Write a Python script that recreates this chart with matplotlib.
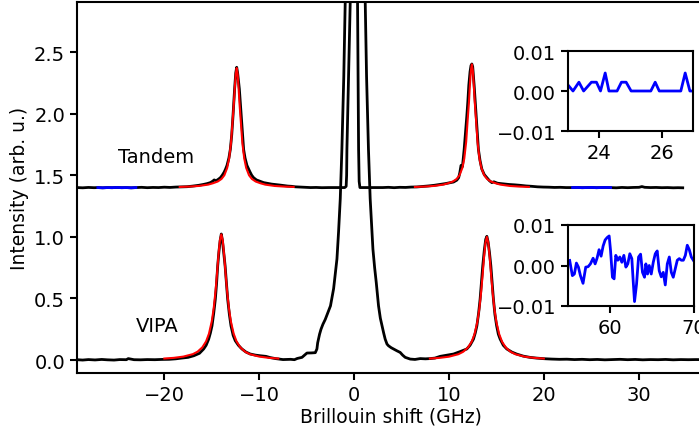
import numpy as np
import matplotlib
matplotlib.use("Agg")
import matplotlib.pyplot as plt

# ---------------- data ----------------
tandem_xy = [
    (-29.2, 1.400), (-28.6, 1.398), (-28.0, 1.401), (-27.4, 1.399), (-27.0, 1.400),
    (-26.5, 1.398), (-26.0, 1.400), (-25.5, 1.399), (-25.0, 1.401), (-24.5, 1.399),
    (-24.0, 1.400), (-23.5, 1.398), (-23.0, 1.400), (-22.4, 1.402), (-21.8, 1.399),
    (-21.2, 1.401), (-20.6, 1.400), (-20.0, 1.403), (-19.4, 1.401), (-18.8, 1.404),
    (-18.3, 1.405), (-17.6, 1.407), (-17.0, 1.412), (-16.4, 1.418), (-15.9, 1.425),
    (-15.5, 1.432), (-15.16, 1.440), (-14.9, 1.452), (-14.75, 1.462), (-14.55, 1.455),
    (-14.3, 1.468), (-14.1, 1.480), (-13.9, 1.500), (-13.7, 1.525), (-13.55, 1.550),
    (-13.4, 1.580), (-13.2, 1.640), (-13.05, 1.710), (-12.9, 1.830), (-12.77, 1.980),
    (-12.6, 2.200), (-12.48, 2.330), (-12.38, 2.376), (-12.28, 2.330), (-12.1, 2.200),
    (-11.9, 1.980), (-11.77, 1.830), (-11.65, 1.710), (-11.5, 1.640), (-11.3, 1.580),
    (-11.0, 1.530), (-10.8, 1.500), (-10.6, 1.480), (-10.3, 1.462), (-9.9, 1.450),
    (-9.54, 1.440), (-9.1, 1.434), (-8.7, 1.428), (-8.2, 1.424), (-7.8, 1.420),
    (-7.4, 1.416), (-7.0, 1.412), (-6.6, 1.410), (-6.2, 1.406), (-5.7, 1.404),
    (-5.2, 1.402), (-4.6, 1.400), (-4.0, 1.401), (-3.4, 1.399), (-2.7, 1.400),
    (-1.0, 1.400), (-0.85, 1.410), (-0.8, 1.500), (-0.77, 1.710), (-0.6, 2.300),
    (-0.42, 2.900), (-0.3, 3.500), (0.0, 6.000), (0.3, 3.500), (0.35, 2.900),
    (0.42, 2.200), (0.46, 1.710), (0.52, 1.450), (0.6, 1.400), (1.5, 1.400),
    (3.0, 1.400), (3.6, 1.402), (4.2, 1.399), (4.8, 1.402), (5.4, 1.401),
    (6.0, 1.404), (6.6, 1.405), (7.2, 1.409), (7.8, 1.413), (8.4, 1.418),
    (9.0, 1.425), (9.6, 1.432), (10.0, 1.438), (10.46, 1.445), (10.8, 1.460),
    (11.0, 1.480), (11.12, 1.520), (11.25, 1.580), (11.4, 1.570), (11.58, 1.710),
    (11.72, 1.840), (11.86, 1.980), (11.97, 2.100), (12.07, 2.230), (12.2, 2.340),
    (12.3, 2.390), (12.39, 2.403), (12.48, 2.380), (12.63, 2.230), (12.74, 2.100),
    (12.84, 1.980), (12.96, 1.840), (13.08, 1.710), (13.25, 1.620), (13.44, 1.550),
    (13.7, 1.505), (13.97, 1.480), (14.25, 1.455), (14.5, 1.440), (14.7, 1.447),
    (15.1, 1.435), (15.7, 1.430), (16.3, 1.425), (16.9, 1.422), (17.5, 1.418),
    (18.1, 1.413), (18.7, 1.410), (19.3, 1.406), (19.9, 1.404), (20.5, 1.403),
    (21.1, 1.401), (21.7, 1.402), (22.3, 1.400), (23.0, 1.400), (23.5, 1.401),
    (24.0, 1.399), (24.5, 1.400), (25.0, 1.401), (25.5, 1.399), (26.0, 1.400),
    (26.5, 1.401), (27.0, 1.400), (27.6, 1.398), (28.2, 1.401), (28.8, 1.399),
    (29.4, 1.401), (30.0, 1.402), (30.3, 1.408), (30.6, 1.402), (31.2, 1.400),
    (31.8, 1.401), (32.4, 1.399), (33.0, 1.400), (33.6, 1.398), (34.1, 1.399),
    (34.6, 1.398),
]

vipa_xy = [
    (-29.2, 0.003), (-28.6, 0.000), (-28.0, 0.004), (-27.3, 0.001), (-26.6, 0.005),
    (-26.0, 0.002), (-25.3, 0.000), (-24.7, 0.004), (-24.0, 0.003), (-23.8, 0.012),
    (-23.2, 0.003), (-22.5, 0.002), (-21.8, 0.004), (-21.0, 0.003), (-20.3, 0.005),
    (-19.5, 0.006), (-18.8, 0.010), (-18.3, 0.015), (-17.5, 0.022), (-16.9, 0.035),
    (-16.3, 0.055), (-15.86, 0.090), (-15.6, 0.120), (-15.33, 0.170), (-15.15, 0.220),
    (-14.98, 0.278), (-14.8, 0.380), (-14.63, 0.495), (-14.5, 0.620), (-14.38, 0.765),
    (-14.25, 0.880), (-14.12, 0.970), (-14.0, 1.023), (-13.88, 0.970), (-13.74, 0.870),
    (-13.6, 0.765), (-13.47, 0.630), (-13.33, 0.495), (-13.15, 0.370), (-12.98, 0.278),
    (-12.75, 0.200), (-12.53, 0.157), (-12.2, 0.120), (-11.83, 0.090), (-11.4, 0.065),
    (-10.95, 0.049), (-10.4, 0.040), (-9.9, 0.035), (-9.3, 0.030), (-8.84, 0.020),
    (-8.3, 0.012), (-7.5, 0.004), (-6.7, 0.006), (-6.3, 0.003), (-6.0, 0.013),
    (-5.5, 0.022), (-4.98, 0.057), (-4.5, 0.058), (-4.1, 0.060), (-3.93, 0.090),
    (-3.85, 0.140), (-3.76, 0.170), (-3.65, 0.210), (-3.5, 0.250), (-3.3, 0.290),
    (-3.05, 0.330), (-2.8, 0.380), (-2.5, 0.440), (-2.17, 0.580), (-2.0, 0.700),
    (-1.82, 0.820), (-1.65, 1.040), (-1.47, 1.310), (-1.3, 1.710), (-1.1, 2.300),
    (-0.95, 2.900), (-0.7, 4.000), (-0.3, 8.000), (0.0, 10.00), (0.3, 9.000),
    (0.7, 5.000), (1.0, 3.500), (1.16, 2.900), (1.3, 2.300), (1.5, 1.710),
    (1.68, 1.310), (1.97, 0.900), (2.15, 0.750), (2.32, 0.630), (2.56, 0.440),
    (2.75, 0.340), (2.92, 0.280), (3.1, 0.220), (3.26, 0.170), (3.45, 0.130),
    (3.61, 0.116), (3.9, 0.100), (4.14, 0.090), (4.5, 0.075), (4.84, 0.062),
    (5.1, 0.040), (5.37, 0.022), (5.9, 0.008), (6.4, 0.005), (6.95, 0.012),
    (7.5, 0.010), (8.0, 0.012), (8.5, 0.016), (9.05, 0.030), (9.8, 0.040),
    (10.46, 0.049), (11.2, 0.070), (11.86, 0.090), (12.2, 0.120), (12.56, 0.170),
    (12.75, 0.220), (12.92, 0.278), (13.1, 0.380), (13.26, 0.495), (13.4, 0.630),
    (13.54, 0.765), (13.7, 0.890), (13.85, 0.980), (13.97, 1.004), (14.1, 0.960),
    (14.25, 0.870), (14.39, 0.765), (14.52, 0.630), (14.66, 0.495), (14.82, 0.370),
    (15.0, 0.278), (15.18, 0.210), (15.37, 0.170), (15.7, 0.120), (16.07, 0.090),
    (16.6, 0.065), (17.1, 0.049), (17.8, 0.032), (18.5, 0.022), (19.2, 0.016),
    (20.0, 0.011), (20.8, 0.008), (21.6, 0.006), (22.4, 0.007), (23.2, 0.004),
    (24.0, 0.006), (24.8, 0.003), (25.6, 0.005), (26.4, 0.002), (27.2, 0.004),
    (28.0, 0.006), (28.8, 0.003), (29.6, 0.005), (30.4, 0.002), (31.2, 0.004),
    (32.0, 0.003), (32.8, 0.005), (33.6, 0.002), (34.4, 0.004), (35.2, 0.003),
    (36.0, 0.004), (37.0, 0.003),
]

# Lorentzian fits (red), sampled around each peak centre
tandem_centers = [-12.38, 12.39]
tandem_fit_offsets = [-6, -5, -4, -3, -2.5, -2, -1.6, -1.3, -1, -0.8, -0.6, -0.45, -0.3,
                      -0.2, -0.1, 0, 0.1, 0.2, 0.3, 0.45, 0.6, 0.8, 1, 1.3, 1.6, 2, 2.5,
                      3, 4, 5, 6]
tandem_fit_left = [1.405, 1.408, 1.413, 1.424, 1.435, 1.449, 1.47, 1.50, 1.56, 1.635,
                   1.76, 1.92, 2.08, 2.21, 2.32, 2.37, 2.32, 2.21, 2.08, 1.92, 1.76,
                   1.635, 1.56, 1.50, 1.47, 1.449, 1.435, 1.424, 1.413, 1.408, 1.405]
tandem_fit_right = [1.405, 1.408, 1.413, 1.424, 1.435, 1.449, 1.47, 1.50, 1.56, 1.635,
                    1.77, 1.94, 2.10, 2.24, 2.35, 2.40, 2.35, 2.24, 2.10, 1.94, 1.77,
                    1.635, 1.56, 1.50, 1.47, 1.449, 1.435, 1.424, 1.413, 1.408, 1.405]

vipa_centers = [-14.0, 13.97]
vipa_fit_offsets = [-6, -5, -4, -3, -2.5, -2, -1.6, -1.3, -1, -0.8, -0.6, -0.45, -0.3,
                    -0.15, 0, 0.15, 0.3, 0.45, 0.6, 0.8, 1, 1.3, 1.6, 2, 2.5, 3, 4, 5, 6]
vipa_fit_left = [0.0125, 0.018, 0.028, 0.048, 0.068, 0.103, 0.152, 0.214, 0.316, 0.420,
                 0.566, 0.703, 0.850, 0.971, 1.020, 0.971, 0.850, 0.703, 0.566, 0.420,
                 0.316, 0.214, 0.152, 0.103, 0.068, 0.048, 0.028, 0.018, 0.0125]
vipa_fit_right = [0.0123, 0.0176, 0.0273, 0.0475, 0.067, 0.101, 0.149, 0.210, 0.310,
                  0.412, 0.555, 0.689, 0.833, 0.952, 1.000, 0.952, 0.833, 0.689, 0.555,
                  0.412, 0.310, 0.210, 0.149, 0.101, 0.067, 0.0475, 0.0273, 0.0176, 0.0123]

# residual regions (blue) on the tandem spectrum
blue_ranges = [(-27.0, -23.0), (23.0, 27.0)]

# residual insets
tandem_res_x = [23.0, 23.16, 23.35, 23.50, 23.75, 23.91, 24.04, 24.19, 24.31, 24.57,
                24.71, 24.86, 25.02, 25.65, 25.79, 25.92, 26.61, 26.75, 26.90, 26.98]
tandem_res_y = [0.0015, 0, 0.0022, 0, 0.0022, 0.0022, 0, 0.0045, 0, 0,
                0.0022, 0.0022, 0, 0, 0.0022, 0, 0, 0.0045, 0, 0]

vipa_res_x = [55.20, 55.52, 55.76, 56.00, 56.24, 56.48, 56.79, 57.11, 57.39, 57.67,
              57.99, 58.23, 58.46, 58.70, 58.94, 59.18, 59.42, 59.66, 59.90, 60.06,
              60.29, 60.49, 60.69, 60.93, 61.17, 61.41, 61.65, 61.89, 62.12, 62.36,
              62.60, 62.76, 62.92, 63.16, 63.40, 63.64, 63.87, 64.11, 64.27, 64.47,
              64.67, 64.91, 65.15, 65.39, 65.62, 65.86, 66.10, 66.34, 66.58, 66.82,
              67.06, 67.30, 67.53, 67.77, 68.01, 68.25, 68.49, 68.73, 68.97, 69.20,
              69.44, 69.68, 69.92]
vipa_res_y = [0.00125, -0.0025, -0.0021, 0.0006, -0.0004, -0.0025, -0.0044, -0.0004,
              -0.0003, 0.0004, 0.0018, 0.0004, 0.0018, 0.0039, 0.0023, 0.0048, 0.0063,
              0.0069, 0.0073, 0.0038, -0.0029, -0.0033, 0.0025, 0.0013, 0.0021, 0.0008,
              0.0025, -0.0004, 0.0004, 0.0029, 0.0017, -0.0038, -0.0089, -0.0046, 0.0021,
              0.0028, -0.0017, -0.0029, 0.0004, -0.0021, 0.0, -0.0021, 0.0008, 0.0029,
              0.0036, -0.0013, -0.0028, -0.0017, -0.0048, 0.0004, 0.0021, -0.0017,
              -0.0029, -0.0008, 0.0013, 0.0017, 0.0013, 0.0013, 0.0025, 0.005, 0.0039,
              0.0021, 0.0013]

labels = ["Tandem", "VIPA"]
x_ticks = [-20, -10, 0, 10, 20, 30]
y_ticks = [0.0, 0.5, 1.0, 1.5, 2.0, 2.5]

# ---------------- plotting ----------------
plt.rcParams['font.family'] = ['DejaVu Sans']
plt.rcParams['font.size'] = 14

W, H = 699, 427
fig = plt.figure(figsize=(W / 100, H / 100), dpi=100)

ax = fig.add_axes([77 / W, 1 - 374 / H, (705.5 - 77) / W, (374 - 3) / H])

tx, ty = np.array(tandem_xy).T
vx, vy = np.array(vipa_xy).T

ax.plot(tx, ty, color='black', lw=2.0, zorder=2)
ax.plot(vx, vy, color='black', lw=2.0, zorder=2)

for c, vals in zip(tandem_centers, [tandem_fit_left, tandem_fit_right]):
    ax.plot(c + np.array(tandem_fit_offsets), vals, color='red', lw=1.5, zorder=3)
for c, vals in zip(vipa_centers, [vipa_fit_left, vipa_fit_right]):
    ax.plot(c + np.array(vipa_fit_offsets), vals, color='red', lw=1.5, zorder=3)

for lo, hi in blue_ranges:
    m = (tx >= lo) & (tx <= hi)
    ax.plot(tx[m], ty[m], color='blue', lw=2.0, zorder=4)

ax.set_xlim(-29.2, 37.0)
ax.set_ylim(-0.105, 2.906)
ax.set_xticks(x_ticks)
ax.set_yticks(y_ticks)
ax.set_xlabel("Brillouin shift (GHz)", fontsize=13.5, labelpad=2)
ax.set_ylabel("Intensity (arb. u.)", fontsize=13.5)
ax.text(-20.9, 1.656, labels[0], ha='center', va='center', fontsize=14)
ax.text(-20.7, 0.284, labels[1], ha='center', va='center', fontsize=14)
for s in ax.spines.values():
    s.set_linewidth(1.5)
ax.tick_params(width=1.5, length=5, labelsize=14)

# insets
ax1 = fig.add_axes([568 / W, 1 - 132 / H, (693 - 568) / W, (132 - 52) / H])
ax1.plot(tandem_res_x, tandem_res_y, color='blue', lw=2.0)
ax1.set_xlim(23, 27)
ax1.set_ylim(-0.01, 0.01)
ax1.set_xticks([24, 26])
ax1.set_yticks([-0.01, 0.0, 0.01])

ax2 = fig.add_axes([568 / W, 1 - 307 / H, (694 - 568) / W, (307 - 226) / H])
ax2.plot(vipa_res_x, vipa_res_y, color='blue', lw=2.0)
ax2.set_xlim(55, 70)
ax2.set_ylim(-0.01, 0.01)
ax2.set_xticks([60, 70])
ax2.set_yticks([-0.01, 0.0, 0.01])

for a in (ax1, ax2):
    for s in a.spines.values():
        s.set_linewidth(1.5)
    a.tick_params(width=1.5, length=5, labelsize=14)

fig.savefig("out.png", dpi=100)
